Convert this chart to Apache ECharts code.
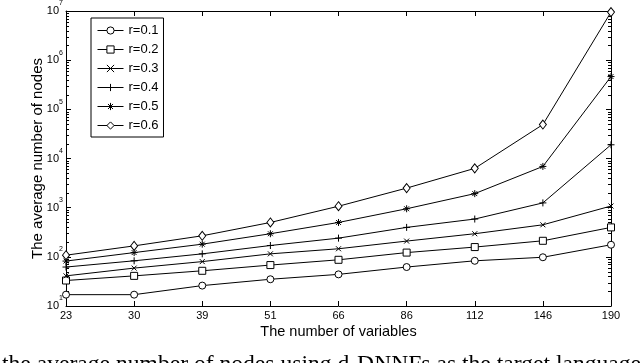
<!DOCTYPE html>
<html>
<head>
<meta charset="utf-8">
<script src="https://cdn.jsdelivr.net/npm/echarts@6/dist/echarts.min.js"></script>
<style>
  html, body { margin: 0; padding: 0; background: #fff; }
  #chart { width: 640px; height: 363px; }
</style>
</head>
<body>
<div id="chart"></div>
<script>
// number of variables (x categories)
var variables = ["23", "30", "39", "51", "66", "86", "112", "146", "190"];

// average number of nodes, one array per ratio r
var r01 = [17, 17, 26, 35, 44, 62, 83, 98, 176];
var r02 = [33, 41, 52, 68, 87, 122, 158, 212, 397];
var r03 = [41, 59, 80, 115, 146, 209, 295, 448, 1080];
var r04 = [62, 83, 115, 170, 240, 397, 587, 1250, 19000];
var r05 = [82, 122, 181, 295, 500, 950, 1930, 6900, 464000];
var r06 = [108, 167, 268, 500, 1070, 2500, 6300, 49000, 9500000];

var seriesNames = ["r=0.1", "r=0.2", "r=0.3", "r=0.4", "r=0.5", "r=0.6"];
var captionText = "the average number of nodes using d-DNNFs as the target language";

var FONT = "'Liberation Sans', Arial, sans-serif";

var markX = "path://M0,0L10,10M10,0L0,10";
var markPlus = "path://M5,0L5,10M0,5L10,5";
var markStar = "path://M5,0L5,10M0,5L10,5M1.5,1.5L8.5,8.5M8.5,1.5L1.5,8.5";

function lineSeries(name, data, symbol, size, open) {
  return {
    name: name,
    type: "line",
    data: data,
    symbol: symbol,
    symbolSize: size,
    showSymbol: true,
    lineStyle: { color: "#000", width: 1 },
    itemStyle: {
      color: open ? "#fff" : "#000",
      borderColor: "#000",
      borderWidth: 1
    },
    emphasis: { disabled: true },
    z: 2
  };
}

var chart = echarts.init(document.getElementById("chart"));

var logAxisBase = {
  type: "log",
  logBase: 10,
  min: 10,
  max: 10000000,
  splitNumber: 6,
  axisLine: { show: true, lineStyle: { color: "#000", width: 1 } },
  axisTick: { show: true, inside: true, length: 5, lineStyle: { color: "#000" } },
  splitLine: { show: false }
};

chart.setOption({
  animation: false,
  backgroundColor: "#fff",
  textStyle: { fontFamily: FONT, color: "#000" },
  grid: { left: 66, right: 29, top: 11, bottom: 57 },
  legend: {
    data: seriesNames,
    orient: "vertical",
    left: 91,
    top: 18,
    padding: [6, 5, 5, 6],
    itemWidth: 26,
    itemHeight: 9,
    itemGap: 6,
    borderColor: "#000",
    borderWidth: 1,
    backgroundColor: "#fff",
    lineStyle: { width: 1, color: "#000" },
    itemStyle: { borderWidth: 1 },
    textStyle: { fontSize: 13, color: "#000", fontFamily: FONT }
  },
  xAxis: [
    {
      type: "category",
      data: variables,
      boundaryGap: false,
      name: "The number of variables",
      nameLocation: "middle",
      nameGap: 18,
      nameMoveOverlap: false,
      nameTextStyle: { fontSize: 14.5, color: "#000", fontFamily: FONT },
      axisLine: { show: true, lineStyle: { color: "#000", width: 1 } },
      axisTick: { show: true, inside: true, length: 5, alignWithLabel: true, lineStyle: { color: "#000" } },
      axisLabel: { fontSize: 11, color: "#000", margin: 4, interval: 0, fontFamily: FONT },
      splitLine: { show: false }
    },
    {
      type: "category",
      data: variables,
      boundaryGap: false,
      position: "top",
      axisLine: { show: true, lineStyle: { color: "#000", width: 1 } },
      axisTick: { show: true, inside: true, length: 5, alignWithLabel: true, lineStyle: { color: "#000" } },
      axisLabel: { show: false },
      splitLine: { show: false }
    }
  ],
  yAxis: [
    Object.assign({}, logAxisBase, {
      position: "left",
      name: "The average number of nodes",
      nameLocation: "middle",
      nameRotate: 90,
      nameGap: 21,
      nameMoveOverlap: false,
      nameTextStyle: { fontSize: 15, color: "#000", fontFamily: FONT },
      axisLabel: {
        margin: 3,
        color: "#000",
        formatter: function (v) {
          var e = Math.round(Math.log(v) / Math.LN10);
          return "{b|10}{e|" + e + "}";
        },
        rich: {
          b: { fontSize: 11, lineHeight: 22, verticalAlign: "middle", fontFamily: FONT, color: "#000" },
          e: { fontSize: 7, lineHeight: 8, verticalAlign: "top", fontFamily: FONT, color: "#000" }
        }
      }
    }),
    Object.assign({}, logAxisBase, {
      position: "right",
      axisLabel: { show: false }
    })
  ],
  series: [
    lineSeries(seriesNames[0], r01, "circle", 7, true),
    lineSeries(seriesNames[1], r02, "rect", 7, true),
    lineSeries(seriesNames[2], r03, markX, 5, false),
    lineSeries(seriesNames[3], r04, markPlus, 7, false),
    lineSeries(seriesNames[4], r05, markStar, 7, false),
    lineSeries(seriesNames[5], r06, "diamond", [7, 9], true)
  ]
});

// minor ticks of the log axis at 2..9 x 10^d, both sides, pointing inward
var rect = chart.getModel().getComponent("grid").coordinateSystem.getRect();
var graphics = [];
for (var d = 1; d < 7; d++) {
  for (var k = 2; k <= 9; k++) {
    var y = Math.round(chart.convertToPixel({ yAxisIndex: 0 }, k * Math.pow(10, d))) + 0.5;
    graphics.push({
      type: "line", silent: true,
      shape: { x1: rect.x, y1: y, x2: rect.x + 3, y2: y },
      style: { stroke: "#000", lineWidth: 1 }
    });
    graphics.push({
      type: "line", silent: true,
      shape: { x1: rect.x + rect.width - 3, y1: y, x2: rect.x + rect.width, y2: y },
      style: { stroke: "#000", lineWidth: 1 }
    });
  }
}
graphics.push({
  type: "text",
  left: 2,
  top: 353,
  silent: true,
  style: {
    text: captionText,
    font: "23.6px 'Liberation Serif', 'Times New Roman', serif",
    fill: "#000"
  }
});
chart.setOption({ graphic: graphics });
</script>
</body>
</html>
